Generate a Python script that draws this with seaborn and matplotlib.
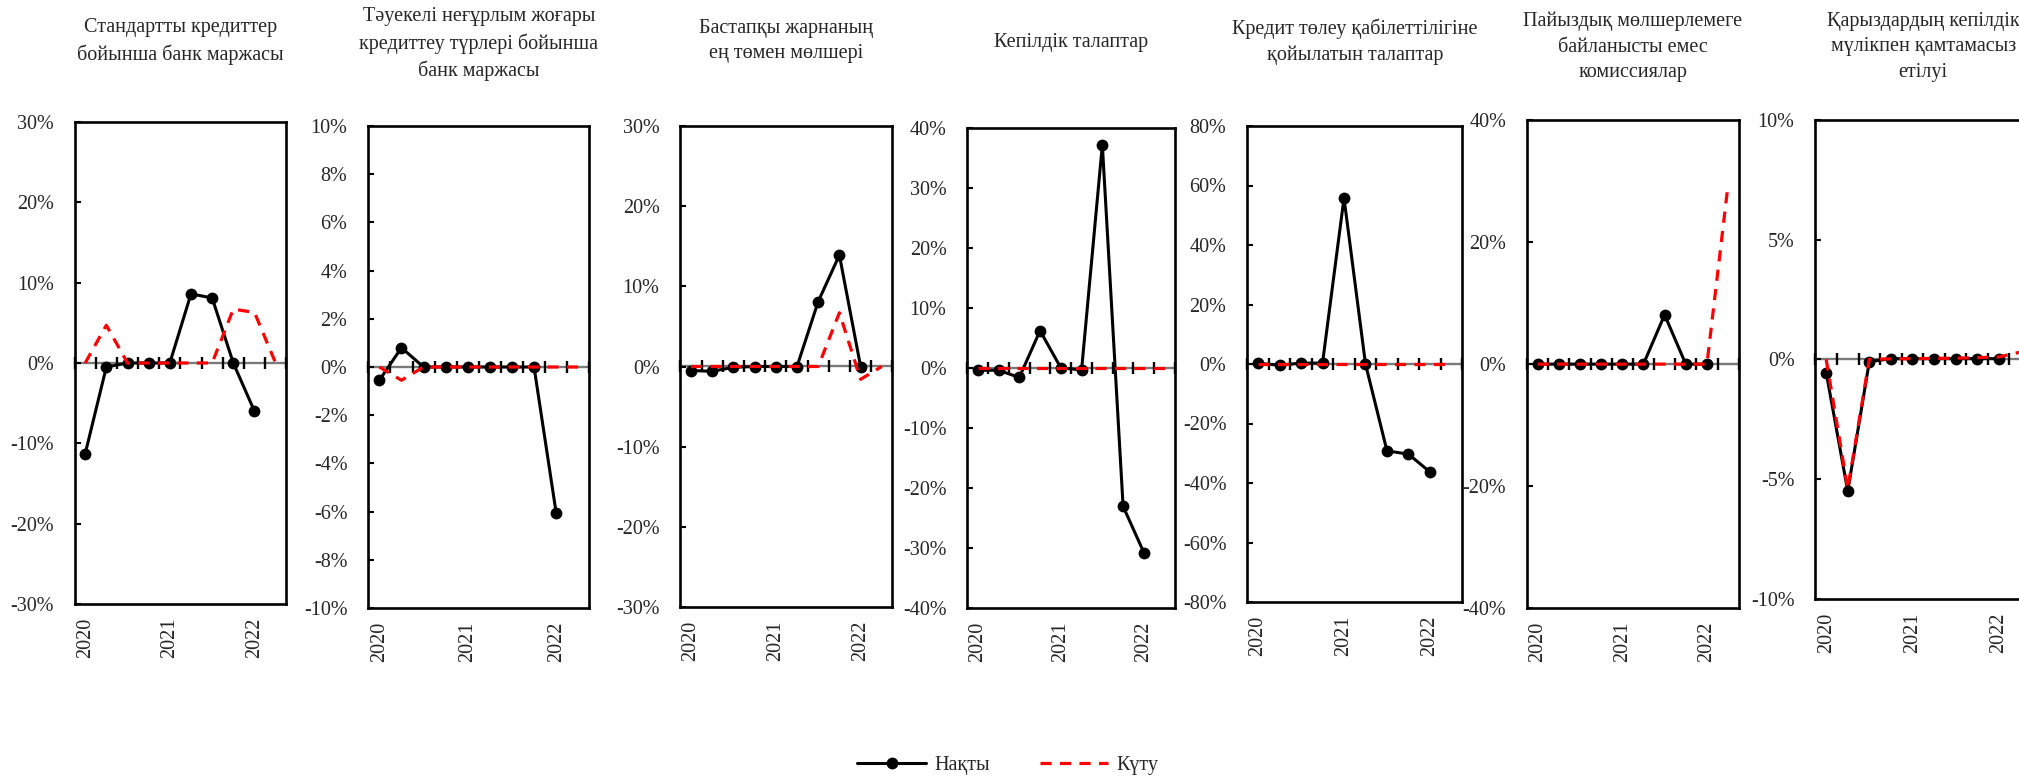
import numpy as np
import pandas as pd
import matplotlib
matplotlib.use("Agg")
import matplotlib.pyplot as plt
import seaborn as sns
from matplotlib.ticker import FuncFormatter

sns.set_style("white")
plt.rcParams["font.family"] = ["Liberation Serif", "DejaVu Serif"]
plt.rcParams["font.size"] = 14.5

# Quarters 2020Q1 .. 2022Q2; year labels sit on the first quarter of each year
quarters = list(range(10))
year_labels = ["2020", "2021", "2022"]
year_positions = [0, 4, 8]

titles = [
    "Стандартты кредиттер\nбойынша банк маржасы",
    "Тәуекелі неғұрлым жоғары\nкредиттеу түрлері бойынша\nбанк маржасы",
    "Бастапқы жарнаның\nең төмен мөлшері",
    "Кепілдік талаптар",
    "Кредит төлеу қабілеттілігіне\nқойылатын талаптар",
    "Пайыздық мөлшерлемеге\nбайланысты емес\nкомиссиялар",
    "Қарыздардың кепілдік\nмүлікпен қамтамасыз\nетілуі",
]

# Actual changes (Нақты), % — nine observed quarters
actual_margin_std = [-11.3, -0.5, 0, 0, 0, 8.6, 8.1, 0, -6.0]
actual_margin_risky = [-0.55, 0.8, 0, 0, 0, 0, 0, 0, -6.05]
actual_down_payment = [-0.5, -0.6, -0.1, 0, 0, 0, 8.1, 13.9, 0]
actual_collateral = [-0.4, -0.4, -1.6, 6.2, 0, -0.35, 37.2, -23.1, -30.8]
actual_solvency = [0.2, -0.4, 0.3, 0.3, 55.8, 0, -29.2, -30.3, -36.3]
actual_fees = [0, 0, 0, 0, 0, 0, 8.1, 0, 0]
actual_coverage = [-0.55, -5.5, -0.1, 0.03, 0.03, 0.03, 0.03, 0.03, 0.03]

# Expected changes (Күту), % — ten quarters
expected_margin_std = [0, 4.7, 0, 0, 0, 0, 0, 6.7, 6.3, 0]
expected_margin_risky = [0, -0.55, 0, 0, 0, 0, 0, 0, 0, 0]
expected_down_payment = [0, 0, 0, 0, 0, 0, 0, 6.7, -1.6, 0]
expected_collateral = [0, 0, 0, 0, 0, 0, 0, 0, 0, 0]
expected_solvency = [0, 0, 0, 0, 0, 0, 0, 0, 0, 0]
expected_fees = [0, 0, 0, 0, 0, 0, 0, 0, 0, 29.5]
expected_coverage = [0, -5.4, 0, 0.02, 0.03, 0.04, 0.05, 0.07, 0.1, 0.3]

actual_series = [actual_margin_std, actual_margin_risky, actual_down_payment,
                 actual_collateral, actual_solvency, actual_fees, actual_coverage]
expected_series = [expected_margin_std, expected_margin_risky, expected_down_payment,
                   expected_collateral, expected_solvency, expected_fees, expected_coverage]

# y-axis range and step for each panel
y_limits = [30, 10, 30, 40, 80, 40, 10]
y_steps = [10, 2, 10, 10, 20, 20, 5]

legend_labels = ["Нақты", "Күту"]

# Layout in pixels: (left, right, top, bottom) of each plot box, title centre y
W, H = 2019, 778
boxes = [
    (74.6, 286.2, 122, 604),
    (368.3, 589.3, 126, 608),
    (680.4, 892.4, 126, 607),
    (967.4, 1175.0, 128, 607.7),
    (1247.3, 1462.2, 126, 602),
    (1527.0, 1738.7, 120.3, 608),
    (1815.4, 2031.0, 119.7, 599),
]
title_y = [41.5, 44, 41, 42, 42, 47, 47]

fig = plt.figure(figsize=(W / 100, H / 100), dpi=100)

pct = FuncFormatter(lambda v, _: f"{int(round(v))}%")
legend_handles = None

for i in range(7):
    l, r, t, b = boxes[i]
    ax = fig.add_axes([l / W, 1 - b / H, (r - l) / W, (b - t) / H])

    lim = y_limits[i]
    ax.set_xlim(-0.5, len(quarters) - 0.5)
    ax.set_ylim(-lim, lim)

    # zero axis with crossing category-boundary ticks
    zero_frac = (0 - (-lim)) / (2 * lim)
    zax = ax.secondary_xaxis(zero_frac)
    zax.set_xticks(np.arange(-0.5, len(quarters), 1.0))
    zax.tick_params(axis="x", direction="inout", length=9, width=1.7,
                    color="black", labeltop=False, labelbottom=False)
    for s in zax.spines.values():
        s.set_color("#7a7a7a")
        s.set_linewidth(1.7)
        s.set_zorder(0)

    act = pd.DataFrame({"q": quarters[:len(actual_series[i])], "v": actual_series[i]})
    exp = pd.DataFrame({"q": quarters[:len(expected_series[i])], "v": expected_series[i]})

    sns.lineplot(data=act, x="q", y="v", ax=ax, color="black", linewidth=2.2,
                 marker="o", markersize=8.5, markeredgewidth=0, legend=False,
                 zorder=3)
    sns.lineplot(data=exp, x="q", y="v", ax=ax, color="#ff0000", linewidth=2.3,
                 linestyle=(0, (3.5, 2.6)), legend=False, zorder=4)

    if legend_handles is None:
        legend_handles = [ax.lines[0], ax.lines[1]]

    ax.set_yticks(np.arange(-lim, lim + 0.001, y_steps[i]))
    ax.yaxis.set_major_formatter(pct)
    ax.tick_params(axis="y", direction="in", length=4.5, width=1.5,
                   color="black", pad=15, labelsize=14.5, left=True)

    ax.set_xticks(year_positions)
    ax.set_xticklabels(year_labels, rotation=90)
    ax.tick_params(axis="x", length=0, pad=10, labelsize=14.5)

    ax.set_xlabel("")
    ax.set_ylabel("")
    for s in ax.spines.values():
        s.set_visible(True)
        s.set_color("black")
        s.set_linewidth(1.9)

    cx = (l + r) / 2
    fig.text(cx / W, 1 - title_y[i] / H, titles[i], ha="center", va="center",
             fontsize=14.5, linespacing=1.45, multialignment="center")

fig.legend(legend_handles, legend_labels, loc="center",
           bbox_to_anchor=(1008 / W, 1 - 765 / H), ncol=2, frameon=False,
           fontsize=14.5, handlelength=3.4, handletextpad=0.4,
           columnspacing=2.5, numpoints=1)

fig.savefig("out.png", dpi=100)
